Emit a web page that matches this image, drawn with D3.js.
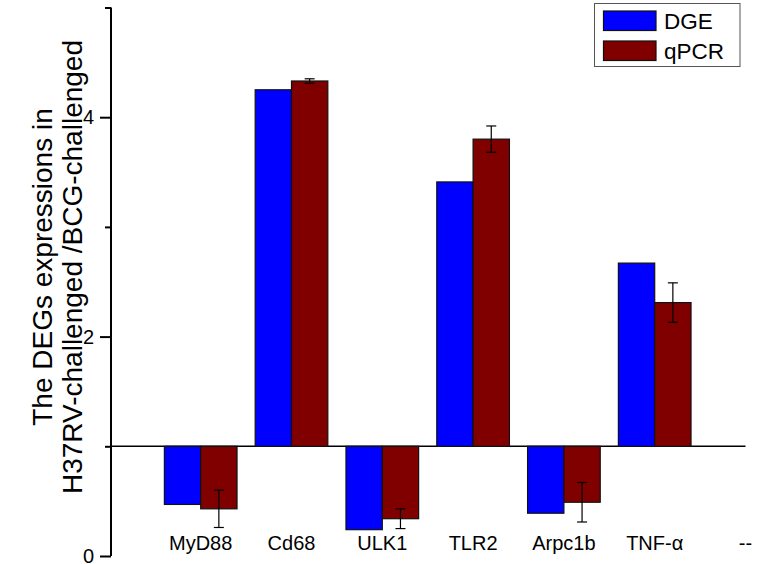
<!DOCTYPE html>
<html>
<head>
<meta charset="utf-8">
<script src="https://cdn.jsdelivr.net/npm/d3@7"></script>
<style>
  html, body { margin: 0; padding: 0; background: #fff; }
  svg { display: block; font-family: Arial, "Liberation Sans", sans-serif; }
</style>
</head>
<body>
<svg id="chart" width="760" height="564"></svg>
<script>
// ---- data ----
const categories = ["MyD88", "Cd68", "ULK1", "TLR2", "Arpc1b", "TNF-\u03b1", "--"];
const dgeValues  = [0.47, 4.25, 0.24, 3.41, 0.39, 2.67];
const qpcrValues = [0.43, 4.33, 0.34, 3.80, 0.49, 2.31];
const qpcrErrors = [0.17, 0.02, 0.09, 0.12, 0.18, 0.18];
const seriesNames = ["DGE", "qPCR"];
const yMajorTicks = [0, 2, 4];
const yMinorTicks = [1, 3, 5];
const baselineValue = 1;
const yTitleLines = ["The DEGs expressions in", "H37RV-challenged /BCG-challenged"];

// ---- styling ----
const colors = { DGE: "#0000ff", qPCR: "#800000" };
const svg = d3.select("#chart");

const x = d3.scalePoint().domain(categories).range([200.7, 745.5]);
const step = x.step();
const barW = step * 0.4;
const y = d3.scaleLinear().domain([0, 5]).range([556, 7.5]);
const axisX = 111;

// baseline at 1
svg.append("line")
  .attr("x1", axisX).attr("x2", x("--"))
  .attr("y1", y(baselineValue)).attr("y2", y(baselineValue))
  .attr("stroke", "#000").attr("stroke-width", 1.5);

const groups = categories.slice(0, dgeValues.length).map((c, i) => ({
  cat: c, dge: dgeValues[i], qpcr: qpcrValues[i], err: qpcrErrors[i]
}));

function barRect(v) {
  return { y: y(Math.max(v, baselineValue)), h: Math.abs(y(v) - y(baselineValue)) };
}

// DGE bars
svg.append("g").selectAll("rect").data(groups).join("rect")
  .attr("x", d => x(d.cat) - barW)
  .attr("y", d => barRect(d.dge).y)
  .attr("width", barW)
  .attr("height", d => barRect(d.dge).h)
  .attr("fill", colors.DGE)
  .attr("stroke", "#111").attr("stroke-width", 1.2);

// qPCR bars
svg.append("g").selectAll("rect").data(groups).join("rect")
  .attr("x", d => x(d.cat))
  .attr("y", d => barRect(d.qpcr).y)
  .attr("width", barW)
  .attr("height", d => barRect(d.qpcr).h)
  .attr("fill", colors.qPCR)
  .attr("stroke", "#111").attr("stroke-width", 1.2);

// error bars
const eg = svg.append("g").attr("stroke", "#000").attr("stroke-width", 1.2);
groups.forEach(d => {
  const cx = x(d.cat) + barW / 2;
  const y1 = y(d.qpcr + d.err), y2 = y(d.qpcr - d.err);
  eg.append("line").attr("x1", cx).attr("x2", cx).attr("y1", y1).attr("y2", y2);
  eg.append("line").attr("x1", cx - 5).attr("x2", cx + 5).attr("y1", y1).attr("y2", y1);
  eg.append("line").attr("x1", cx - 5).attr("x2", cx + 5).attr("y1", y2).attr("y2", y2);
});

// y axis (major ticks with labels)
const yAxis = d3.axisLeft(y).tickValues(yMajorTicks).tickSize(11).tickPadding(6)
  .tickFormat(d3.format("d"));
const ag = svg.append("g").attr("transform", `translate(${axisX},0)`).call(yAxis);
ag.select(".domain").attr("stroke", "#000").attr("stroke-width", 2)
  .attr("d", `M0,${y(5)}V${y(0)}`);
ag.selectAll(".tick line").attr("stroke", "#000").attr("stroke-width", 2);
ag.selectAll(".tick text").attr("font-size", 20).attr("fill", "#000")
  .attr("font-family", "Arial, 'Liberation Sans', sans-serif");

// minor ticks
const yMinor = d3.axisLeft(y).tickValues(yMinorTicks).tickSize(6).tickFormat("");
const mg = svg.append("g").attr("transform", `translate(${axisX},0)`).call(yMinor);
mg.select(".domain").remove();
mg.selectAll(".tick line").attr("stroke", "#000").attr("stroke-width", 2);

// x labels
svg.append("g").selectAll("text").data(categories).join("text")
  .attr("x", d => x(d))
  .attr("y", 550)
  .attr("text-anchor", "middle")
  .attr("font-size", 20)
  .attr("fill", "#000")
  .text(d => d);

// y title
const tcy = 267;
svg.append("g").selectAll("text").data(yTitleLines).join("text")
  .attr("transform", (d, i) => `translate(${[52, 82][i]},${tcy}) rotate(-90)`)
  .attr("text-anchor", "middle")
  .attr("font-size", 28)
  .attr("fill", "#000")
  .text(d => d);

// legend
const lg = svg.append("g");
lg.append("rect").attr("x", 594.5).attr("y", 3.5).attr("width", 145.5).attr("height", 63)
  .attr("fill", "#fff").attr("stroke", "#555").attr("stroke-width", 1);
seriesNames.forEach((name, i) => {
  lg.append("rect").attr("x", 603.5).attr("y", 11 + i * 30).attr("width", 52.5).attr("height", 19.5)
    .attr("fill", colors[name]).attr("stroke", "#111").attr("stroke-width", 1.2);
  lg.append("text").attr("x", 664).attr("y", 28.5 + i * 30)
    .attr("font-size", 22.5).attr("fill", "#000").text(name);
});
</script>
</body>
</html>
